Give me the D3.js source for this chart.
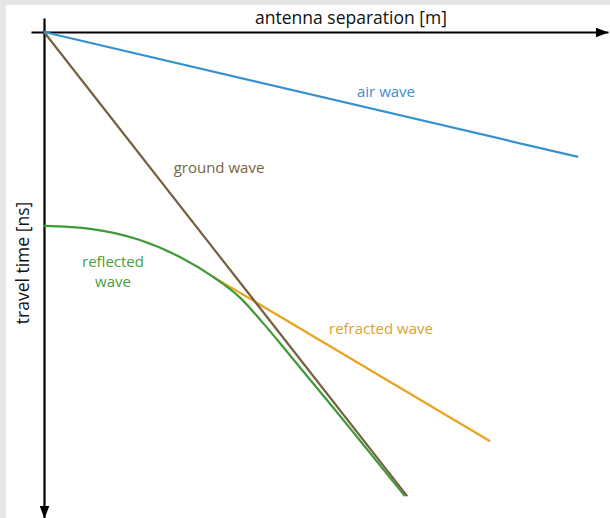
<!DOCTYPE html>
<html>
<head>
<meta charset="utf-8">
<script src="https://cdn.jsdelivr.net/npm/d3@7"></script>
<style>
  html, body { margin: 0; padding: 0; background: #e6e6e6; }
  svg { display: block; }
  text { font-family: "Open Sans", sans-serif; }
</style>
</head>
<body>
<svg id="chart"></svg>
<script>
// Wave arrivals: [antenna separation (m), travel time (ns)]
const airWave = [[0, 0], [9.47, 25.7]];
const groundWave = [[0, 0], [6.44, 95.5]];
const reflectedWave = [
  [0, 39.9], [0.82, 40.5], [1.70, 42.8], [2.41, 46.3], [3.00, 50.4],
  [3.48, 54.7], [3.87, 59.7], [4.36, 66.5], [5.25, 79.0], [6.40, 95.5]
];
const refractedWave = [[3.00, 50.4], [7.91, 84.2]];

const seriesNames = ['air wave', 'ground wave', 'reflected wave', 'refracted wave'];
const xLabel = 'antenna separation [m]';
const yLabel = 'travel time [ns]';

// Set up chart dimensions
const width = 610;
const height = 518;

const svg = d3.select('#chart')
  .attr('width', width)
  .attr('height', height);

// White panel on the grey page
svg.append('rect')
  .attr('x', 6)
  .attr('y', 5)
  .attr('width', width - 6)
  .attr('height', height - 5)
  .attr('fill', '#fff');

// Create scales (origin top-left, time grows downward)
const xScale = d3.scaleLinear().domain([0, 10]).range([44, 608]);
const yScale = d3.scaleLinear().domain([0, 100]).range([32, 518]);

// Arrowheads
const defs = svg.append('defs');
defs.append('marker')
  .attr('id', 'arrow')
  .attr('markerUnits', 'userSpaceOnUse')
  .attr('viewBox', '0 0 13 10')
  .attr('refX', 13)
  .attr('refY', 5)
  .attr('markerWidth', 13)
  .attr('markerHeight', 10)
  .attr('orient', 'auto')
  .append('path')
  .attr('d', 'M0,0 L13,5 L0,10 Z')
  .attr('fill', '#000');

// Axes, drawn through the scales, without ticks
const xAxis = d3.axisTop(xScale.copy().range([31, 608]).domain([-0.23, 10]))
  .tickValues([])
  .tickSizeOuter(0);
const gx = svg.append('g')
  .attr('transform', `translate(0, ${yScale(0)})`)
  .call(xAxis);
gx.select('.domain')
  .attr('stroke', '#000')
  .attr('stroke-width', 2.2)
  .attr('marker-end', 'url(#arrow)');

const yAxis = d3.axisLeft(yScale.copy().range([18, 518]).domain([-2.9, 100]))
  .tickValues([])
  .tickSizeOuter(0);
const gy = svg.append('g')
  .attr('transform', `translate(${xScale(0)}, 0)`)
  .call(yAxis);
gy.select('.domain')
  .attr('stroke', '#000')
  .attr('stroke-width', 2.2)
  .attr('marker-end', 'url(#arrow)');

// Wave lines
const straight = d3.line()
  .x(d => xScale(d[0]))
  .y(d => yScale(d[1]));

const smooth = d3.line()
  .x(d => xScale(d[0]))
  .y(d => yScale(d[1]))
  .curve(d3.curveMonotoneX);

const waves = [
  { data: refractedWave, line: straight, color: '#eba323' },
  { data: reflectedWave, line: smooth, color: '#3d9a35' },
  { data: groundWave, line: straight, color: '#766041' },
  { data: airWave, line: straight, color: '#3590d4' }
];

svg.selectAll('.wave')
  .data(waves)
  .enter().append('path')
  .attr('class', 'wave')
  .attr('d', d => d.line(d.data))
  .attr('fill', 'none')
  .attr('stroke', d => d.color)
  .attr('stroke-width', 2.2)
  .attr('stroke-linecap', 'butt');

// Axis titles
svg.append('text')
  .attr('x', 351)
  .attr('y', 24)
  .attr('text-anchor', 'middle')
  .attr('font-size', 17.5)
  .attr('fill', '#111')
  .text(xLabel);

svg.append('text')
  .attr('transform', 'translate(29, 263) rotate(-90)')
  .attr('text-anchor', 'middle')
  .attr('font-size', 17.5)
  .attr('fill', '#111')
  .text(yLabel);

// Curve labels
svg.append('text')
  .attr('x', 386).attr('y', 97)
  .attr('text-anchor', 'middle')
  .attr('font-size', 15)
  .attr('fill', '#3a8fd0')
  .text(seriesNames[0]);

svg.append('text')
  .attr('x', 219).attr('y', 173)
  .attr('text-anchor', 'middle')
  .attr('font-size', 15)
  .attr('fill', '#7a6544')
  .text(seriesNames[1]);

const refl = svg.append('text')
  .attr('text-anchor', 'middle')
  .attr('font-size', 15)
  .attr('fill', '#48a03c');
seriesNames[2].split(' ').forEach((w, i) => {
  refl.append('tspan')
    .attr('x', 113)
    .attr('y', 267 + i * 20)
    .text(w);
});

svg.append('text')
  .attr('x', 381).attr('y', 334)
  .attr('text-anchor', 'middle')
  .attr('font-size', 15)
  .attr('fill', '#dca22f')
  .text(seriesNames[3]);
</script>
</body>
</html>
